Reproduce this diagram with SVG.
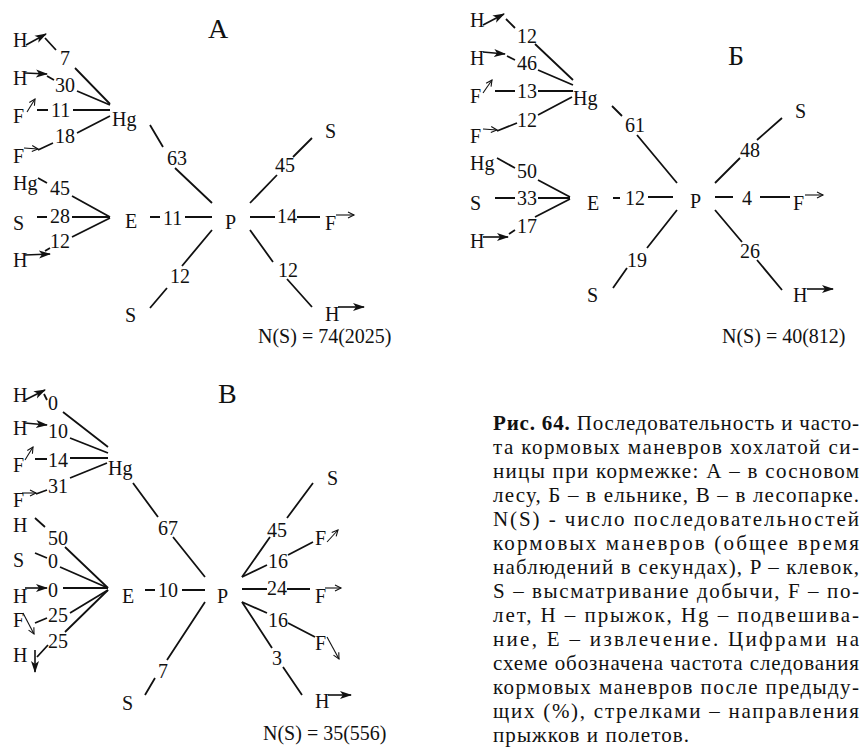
<svg xmlns="http://www.w3.org/2000/svg" width="861" height="747" viewBox="0 0 861 747">
<style>
.t{font-family:"Liberation Serif","Times New Roman",serif;font-size:20px;fill:#111}
.ti{font-size:28px}
.cap{font-family:"Liberation Serif","Times New Roman",serif;font-size:21px;fill:#111}
.b{font-weight:bold}
.c{stroke:#111;stroke-width:1.8;fill:none}
.ah{stroke:#111;stroke-width:1.6;fill:none;marker-end:url(#hf)}
.af{stroke:#111;stroke-width:1.1;fill:none;marker-end:url(#fo)}
</style>
<defs>
<marker id="hf" markerWidth="13" markerHeight="10" refX="11" refY="5" orient="auto" markerUnits="userSpaceOnUse"><path d="M0,1 L12,5 L0,9 L3,5 z" fill="#111"/></marker>
<marker id="fo" markerWidth="9" markerHeight="8" refX="7" refY="4" orient="auto" markerUnits="userSpaceOnUse"><path d="M1,1 L7,4 L1,7" fill="none" stroke="#111" stroke-width="1.1"/></marker>
</defs>
<rect width="861" height="747" fill="#fff"/>

<!-- Panel A -->
<g id="A-title"><text class="t ti" x="208" y="38">А</text></g>
<g id="A-H1"><text class="t" x="13" y="47">H</text><path class="ah" d="M26,45 L46,34"/></g>
<g id="A-H2"><text class="t" x="13" y="85">H</text><path class="ah" d="M25,73 L47,74"/></g>
<g id="A-F1"><text class="t" x="13" y="123">F</text><path class="af" d="M27,112 L35,99"/></g>
<g id="A-F2"><text class="t" x="13" y="163">F</text><path class="af" d="M24,148 L38,149"/></g>
<g id="A-Hg2"><text class="t" x="13" y="190">Hg</text></g>
<g id="A-S1"><text class="t" x="13" y="230">S</text></g>
<g id="A-H3"><text class="t" x="13" y="267">H</text><path class="ah" d="M25,255 L50,254"/></g>
<g id="A-Hg"><text class="t" x="112" y="126">Hg</text></g>
<g id="A-E"><text class="t" x="125" y="228">E</text></g>
<g id="A-P"><text class="t" x="225" y="229">P</text></g>
<g id="A-S2"><text class="t" x="325" y="138">S</text></g>
<g id="A-F3"><text class="t" x="325" y="230">F</text><path class="af" d="M336,215 L354,215"/></g>
<g id="A-H4"><text class="t" x="325" y="321">H</text><path class="ah" d="M338,307 L364,307"/></g>
<g id="A-S3"><text class="t" x="125" y="322">S</text></g>
<g id="A-N"><text class="t" x="258" y="343">N(S) = 74(2025)</text></g>

<!-- Panel Б -->
<g id="B-title"><text class="t ti" x="728" y="65">Б</text></g>
<g id="B-H1"><text class="t" x="470" y="27">H</text><path class="ah" d="M483,25 L504,14"/></g>
<g id="B-H2"><text class="t" x="470" y="65">H</text><path class="ah" d="M483,52 L505,54"/></g>
<g id="B-F1"><text class="t" x="470" y="103">F</text><path class="af" d="M483,93 L492,80"/></g>
<g id="B-F2"><text class="t" x="470" y="143">F</text><path class="af" d="M483,129 L497,130"/></g>
<g id="B-Hg2"><text class="t" x="470" y="170">Hg</text></g>
<g id="B-S1"><text class="t" x="470" y="210">S</text></g>
<g id="B-H3"><text class="t" x="470" y="248">H</text><path class="ah" d="M483,237 L508,237"/></g>
<g id="B-Hg"><text class="t" x="573" y="105">Hg</text></g>
<g id="B-E"><text class="t" x="587" y="210">E</text></g>
<g id="B-P"><text class="t" x="690" y="208">P</text></g>
<g id="B-S2"><text class="t" x="795" y="118">S</text></g>
<g id="B-F3"><text class="t" x="793" y="210">F</text><path class="af" d="M805,195 L823,195"/></g>
<g id="B-H4"><text class="t" x="793" y="302">H</text><path class="ah" d="M807,289 L833,289"/></g>
<g id="B-S3"><text class="t" x="587" y="302">S</text></g>
<g id="B-N"><text class="t" x="722" y="343">N(S) = 40(812)</text></g>

<!-- Panel В -->
<g id="C-title"><text class="t ti" x="218" y="403">В</text></g>
<g id="C-H1"><text class="t" x="13" y="402">H</text><path class="ah" d="M25,400 L45,390"/></g>
<g id="C-H2"><text class="t" x="13" y="435">H</text><path class="ah" d="M25,423 L47,425"/></g>
<g id="C-F1"><text class="t" x="13" y="472">F</text><path class="af" d="M25,460 L33,447"/></g>
<g id="C-F2"><text class="t" x="13" y="507">F</text><path class="af" d="M22,493 L36,493"/></g>
<g id="C-H3"><text class="t" x="13" y="532">H</text></g>
<g id="C-S1"><text class="t" x="13" y="567">S</text></g>
<g id="C-H4"><text class="t" x="13" y="603">H</text><path class="ah" d="M25,588 L47,588"/></g>
<g id="C-F3"><text class="t" x="13" y="627">F</text><path class="af" d="M23,613 L34,634"/></g>
<g id="C-H5"><text class="t" x="13" y="662">H</text><path class="ah" d="M35,650 L35,672"/></g>
<g id="C-Hg"><text class="t" x="108" y="475">Hg</text></g>
<g id="C-E"><text class="t" x="122" y="603">E</text></g>
<g id="C-P"><text class="t" x="217" y="603">P</text></g>
<g id="C-S2"><text class="t" x="327" y="485">S</text></g>
<g id="C-F4"><text class="t" x="315" y="545">F</text><path class="af" d="M327,542 L338,530"/></g>
<g id="C-F5"><text class="t" x="315" y="603">F</text><path class="af" d="M325,588 L341,588"/></g>
<g id="C-F6"><text class="t" x="315" y="650">F</text><path class="af" d="M327,637 L339,659"/></g>
<g id="C-H6"><text class="t" x="315" y="708">H</text><path class="ah" d="M328,695 L351,695"/></g>
<g id="C-S3"><text class="t" x="122" y="710">S</text></g>
<g id="C-N"><text class="t" x="263" y="740">N(S) = 35(556)</text></g>

<g id="connectors">
<path class="c" d="M110,104 L75,68 M56,50 L45,38"/>
<path class="c" d="M110,105 L77,91 M54,80 L47,76"/>
<path class="c" d="M110,110 L73,110 M48,110 L37,110"/>
<path class="c" d="M110,116 L77,133 M53,143 L38,150"/>
<path class="c" d="M110,217 L72,196 M47,183 L38,178"/>
<path class="c" d="M110,217 L72,217 M47,217 L37,217"/>
<path class="c" d="M110,218 L72,237 M50,248 L45,251"/>
<path class="c" d="M150,125 L163,147 M175,168 L212,203"/>
<path class="c" d="M150,217 L160,217 M185,217 L212,217"/>
<path class="c" d="M250,217 L275,217 M297,217 L320,217"/>
<path class="c" d="M250,203 L277,175 M293,157 L312,138"/>
<path class="c" d="M250,230 L273,262 M287,279 L312,307"/>
<path class="c" d="M212,230 L182,266 M167,288 L150,308"/>

<path class="c" d="M573,80 L535,44 M515,28 L506,19"/>
<path class="c" d="M573,85 L538,70 M515,60 L507,56"/>
<path class="c" d="M573,91 L538,91 M515,91 L495,91"/>
<path class="c" d="M572,97 L538,115 M517,123 L497,131"/>
<path class="c" d="M570,197 L538,180 M515,168 L497,158"/>
<path class="c" d="M570,198 L538,198 M515,198 L495,198"/>
<path class="c" d="M570,199 L535,217 M515,230 L509,234"/>
<path class="c" d="M612,106 L622,116 M637,135 L677,183"/>
<path class="c" d="M613,198 L620,198 M648,197 L673,197"/>
<path class="c" d="M715,197 L733,197 M760,197 L790,197"/>
<path class="c" d="M715,183 L740,158 M757,140 L782,118"/>
<path class="c" d="M715,210 L742,242 M757,260 L782,290"/>
<path class="c" d="M677,210 L647,248 M627,268 L613,288"/>

<path class="c" d="M108,447 L63,412 M47,400 L44,394"/>
<path class="c" d="M108,453 L70,438"/>
<path class="c" d="M108,458 L70,458 M47,459 L35,459"/>
<path class="c" d="M107,463 L70,478 M47,490 L36,494"/>
<path class="c" d="M108,588 L65,547 M45,527 L35,518"/>
<path class="c" d="M108,588 L60,567 M47,558 L35,553"/>
<path class="c" d="M108,588 L63,588"/>
<path class="c" d="M108,590 L70,613 M47,618 L35,623"/>
<path class="c" d="M108,590 L65,632 M48,645 L37,657"/>
<path class="c" d="M133,483 L158,517 M173,537 L205,577"/>
<path class="c" d="M145,590 L155,590 M182,590 L205,590"/>
<path class="c" d="M205,602 L167,660 M155,678 L145,695"/>
<path class="c" d="M242,577 L270,537 M287,518 L313,483"/>
<path class="c" d="M242,577 L267,565 M288,555 L313,542"/>
<path class="c" d="M242,589 L267,589 M287,589 L310,589"/>
<path class="c" d="M242,602 L267,613 M288,623 L315,637"/>
<path class="c" d="M242,602 L272,648 M283,667 L302,695"/>

<g id="labels">
<text class="t" x="60" y="65">7</text>
<text class="t" x="55" y="92">30</text>
<text class="t" x="51" y="117">11</text>
<text class="t" x="55" y="143">18</text>
<text class="t" x="50" y="195">45</text>
<text class="t" x="50" y="223">28</text>
<text class="t" x="50" y="248">12</text>
<text class="t" x="167" y="165">63</text>
<text class="t" x="163" y="225">11</text>
<text class="t" x="275" y="172">45</text>
<text class="t" x="277" y="223">14</text>
<text class="t" x="278" y="277">12</text>
<text class="t" x="170" y="283">12</text>

<text class="t" x="517" y="43">12</text>
<text class="t" x="517" y="70">46</text>
<text class="t" x="517" y="98">13</text>
<text class="t" x="517" y="127">12</text>
<text class="t" x="517" y="178">50</text>
<text class="t" x="517" y="205">33</text>
<text class="t" x="517" y="233">17</text>
<text class="t" x="625" y="132">61</text>
<text class="t" x="625" y="205">12</text>
<text class="t" x="740" y="157">48</text>
<text class="t" x="742" y="205">4</text>
<text class="t" x="740" y="258">26</text>
<text class="t" x="627" y="267">19</text>

<text class="t" x="48" y="410">0</text>
<text class="t" x="48" y="438">10</text>
<text class="t" x="48" y="467">14</text>
<text class="t" x="48" y="493">31</text>
<text class="t" x="48" y="545">50</text>
<text class="t" x="48" y="568">0</text>
<text class="t" x="48" y="597">0</text>
<text class="t" x="48" y="622">25</text>
<text class="t" x="48" y="648">25</text>
<text class="t" x="158" y="535">67</text>
<text class="t" x="158" y="597">10</text>
<text class="t" x="158" y="678">7</text>
<text class="t" x="267" y="537">45</text>
<text class="t" x="268" y="568">16</text>
<text class="t" x="267" y="595">24</text>
<text class="t" x="268" y="627">16</text>
<text class="t" x="272" y="665">3</text>
</g>
</g>

<g id="caption">
<text class="cap" x="493" y="430" textLength="366" lengthAdjust="spacing"><tspan class="b">Рис. 64.</tspan> Последовательность и часто-</text>
<text class="cap" x="493" y="454" textLength="366" lengthAdjust="spacing">та кормовых маневров хохлатой си-</text>
<text class="cap" x="493" y="478" textLength="366" lengthAdjust="spacing">ницы при кормежке: А – в сосновом</text>
<text class="cap" x="493" y="502" textLength="366" lengthAdjust="spacing">лесу, Б – в ельнике, В – в лесопарке.</text>
<text class="cap" x="493" y="526" textLength="366" lengthAdjust="spacing">N(S) - число последовательностей</text>
<text class="cap" x="493" y="550" textLength="366" lengthAdjust="spacing">кормовых маневров (общее время</text>
<text class="cap" x="493" y="574" textLength="366" lengthAdjust="spacing">наблюдений в секундах), P – клевок,</text>
<text class="cap" x="493" y="598" textLength="366" lengthAdjust="spacing">S – высматривание добычи, F – по-</text>
<text class="cap" x="493" y="622" textLength="366" lengthAdjust="spacing">лет, H – прыжок, Hg – подвешива-</text>
<text class="cap" x="493" y="646" textLength="366" lengthAdjust="spacing">ние, E – извлечение. Цифрами на</text>
<text class="cap" x="493" y="670" textLength="366" lengthAdjust="spacing">схеме обозначена частота следования</text>
<text class="cap" x="493" y="694" textLength="366" lengthAdjust="spacing">кормовых маневров после предыду-</text>
<text class="cap" x="493" y="718" textLength="366" lengthAdjust="spacing">щих (%), стрелками – направления</text>
<text class="cap" x="493" y="742" textLength="196" lengthAdjust="spacing">прыжков и полетов.</text>
</g>
</svg>
